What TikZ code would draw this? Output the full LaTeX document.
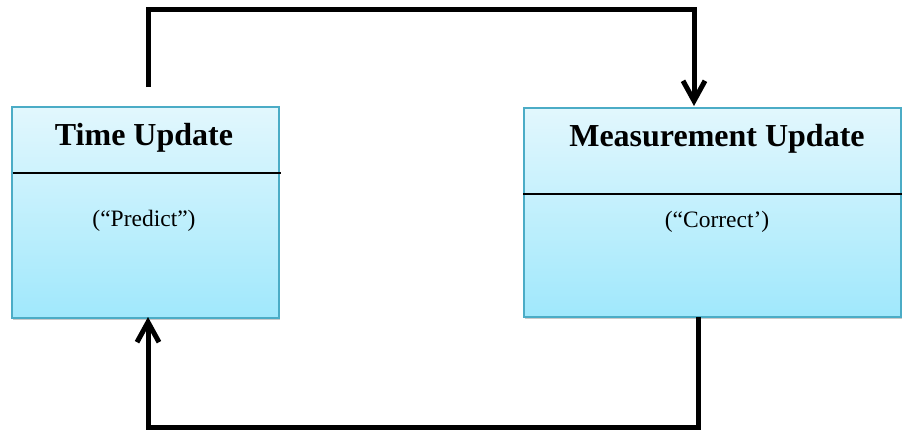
\documentclass[tikz,border=0pt]{standalone}
\usepackage{fontspec}
\setmainfont{Liberation Serif}
\usetikzlibrary{arrows.meta,shadows,calc}
\definecolor{boxtop}{HTML}{E2F7FD}
\definecolor{boxbot}{HTML}{A0E8FC}
\definecolor{boxline}{HTML}{4BACC6}
\tikzset{
  ubox/.style={draw=boxline, line width=1.6pt, top color=boxtop, bottom color=boxbot,
    rectangle, inner sep=0pt, anchor=north west,
    drop shadow={shadow xshift=1.5pt, shadow yshift=-2pt, opacity=0.35, fill=black!60}},
  divider/.style={line width=2pt, black},
  ttl/.style={font=\bfseries\fontsize{32}{35}\selectfont, inner sep=0pt},
  sub/.style={font=\fontsize{23.5}{26}\selectfont, inner sep=0pt},
  conn/.style={line width=5pt, black, line join=miter},
  tip/.style={-{Straight Barb[length=20pt,width=22pt,line width=5pt]}}
}
\begin{document}
\begin{tikzpicture}[x=1pt,y=-1pt]
\useasboundingbox (0,0) rectangle (902,432);
% boxes
\node[ubox, minimum width=267pt, minimum height=211pt] (tu) at (11,106) {};
\node[ubox, minimum width=377pt, minimum height=209pt] (mu) at (523,107) {};
% dividers
\coordinate (tl) at (13,173);
\coordinate (tr) at (281,173);
\draw[divider] (tl) -- (tr);
\coordinate (ml) at (523,194);
\coordinate (mr) at (902,194);
\draw[divider] (ml) -- (mr);
% texts
\node[ttl] (tut) at (144,138) {Time Update};
\node[sub] (tus) at (144,221) {(“Predict”)};
\node[ttl] (mut) at (717,139) {Measurement Update};
\node[sub] (mus) at (717,222) {(“Correct’)};
% connectors
\coordinate (s1) at (148,87);
\draw[conn, tip] (s1) -- (148,9) -- (694,9) -- (694,106);
\coordinate (s2) at (698,317);
\draw[conn, tip] (s2) -- (698,427) -- (148,427) -- (148,317);
\end{tikzpicture}
\end{document}
